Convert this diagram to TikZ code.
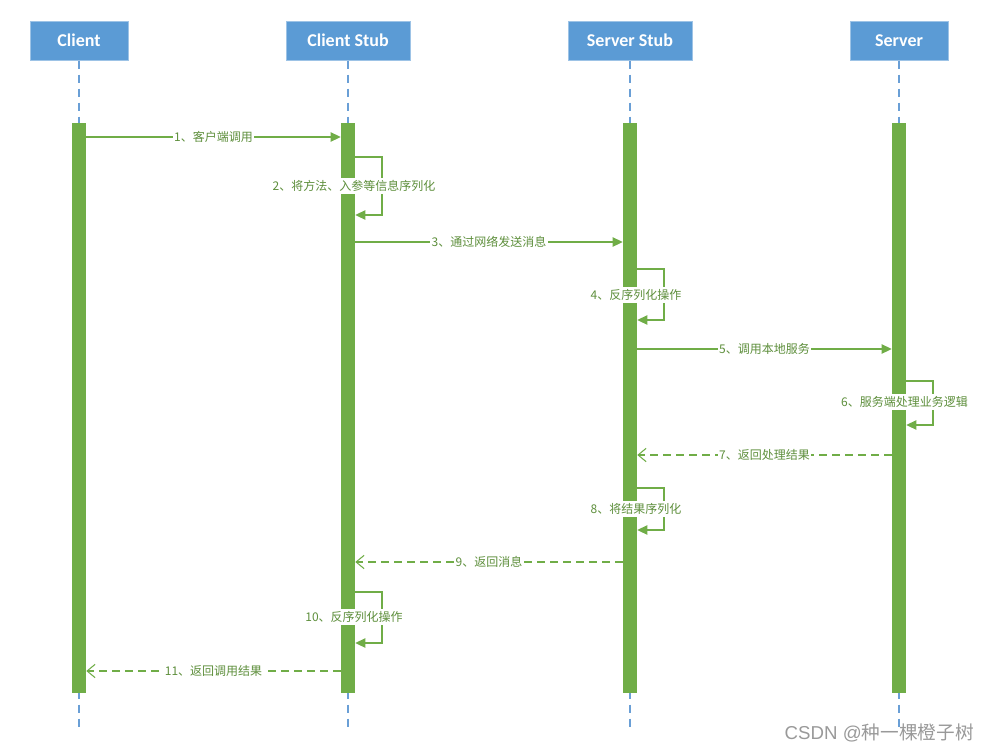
\documentclass[tikz,border=0pt]{standalone}
\usepackage{fontspec}
\setmainfont{Carlito}
\newfontfamily\cjk{Noto Sans CJK SC}
\newfontfamily\wmfont{Liberation Sans}
\usetikzlibrary{arrows.meta}
\definecolor{headblue}{HTML}{5B9BD5}
\definecolor{headline}{HTML}{9DC3E6}
\definecolor{lifeblue}{HTML}{6A9FD6}
\definecolor{barg}{HTML}{70AD47}
\definecolor{msgg}{HTML}{70AD47}
\definecolor{lblg}{HTML}{5E8F3C}
\definecolor{wmgray}{HTML}{999999}
\tikzset{
  head/.style={draw=headline, line width=0.75pt, fill=headblue, text=white,
    font=\bfseries\fontsize{13.5}{15}\selectfont, minimum height=29.25pt, inner sep=0pt},
  lifeline/.style={draw=lifeblue, line width=0.8pt, dash pattern=on 6pt off 4.5pt},
  bar/.style={fill=barg, draw=none, minimum width=10.5pt, minimum height=427.5pt, inner sep=0pt},
  msg/.style={draw=msgg, line width=0.8pt, -{Triangle[length=7.5pt,width=7pt]}},
  ret/.style={draw=msgg, line width=0.8pt, dash pattern=on 6pt off 3.75pt,
    -{Straight Barb[length=6pt,width=10pt,line width=0.8pt]}},
  lbl/.style={fill=white, text=lblg, font=\cjk\fontsize{9}{11}\selectfont,
    inner xsep=1pt, inner ysep=2pt}
}
\begin{document}
\begin{tikzpicture}[x=0.75pt,y=-0.75pt]
\useasboundingbox (0,0) rectangle (990,751);
% headers
\node[head, minimum width=73.5pt] (hc)  at (79,40.5)  {Client};
\node[head, minimum width=93pt]   (hcs) at (348,40.5) {Client Stub};
\node[head, minimum width=93pt]   (hss) at (630,40.5) {Server Stub};
\node[head, minimum width=73.5pt] (hs)  at (899,40.5) {Server};
% lifeline ends
\coordinate (ec)  at (79,727);
\coordinate (ecs) at (348,727);
\coordinate (ess) at (630,727);
\coordinate (es)  at (899,727);
\draw[lifeline] (hc.south)  -- (ec);
\draw[lifeline] (hcs.south) -- (ecs);
\draw[lifeline] (hss.south) -- (ess);
\draw[lifeline] (hs.south)  -- (es);
% activation bars
\node[bar] (bc)  at (79,408)  {};
\node[bar] (bcs) at (348,408) {};
\node[bar] (bss) at (630,408) {};
\node[bar] (bs)  at (899,408) {};
% loop corners
\coordinate (c2a) at (382,157); \coordinate (c2b) at (382,215);
\coordinate (c4a) at (664,269); \coordinate (c4b) at (664,320);
\coordinate (c6a) at (933,381); \coordinate (c6b) at (933,425);
\coordinate (c8a) at (664,488); \coordinate (c8b) at (664,530);
\coordinate (c10a) at (382,592); \coordinate (c10b) at (382,643);
% messages
\draw[msg] (bc.east |- 0,137) -- (bcs.west |- 0,137) node[lbl, midway] (l1) {1、客户端调用};
\draw[msg] (bcs.east |- c2a) -- (c2a) -- (c2b) -- (bcs.east |- c2b);
\node[lbl] (l2) at (354,186) {2、将方法、入参等信息序列化};
\draw[msg] (bcs.east |- 0,242) -- (bss.west |- 0,242) node[lbl, midway] (l3) {3、通过网络发送消息};
\draw[msg] (bss.east |- c4a) -- (c4a) -- (c4b) -- (bss.east |- c4b);
\node[lbl] (l4) at (636,295) {4、反序列化操作};
\draw[msg] (bss.east |- 0,349) -- (bs.west |- 0,349) node[lbl, midway] (l5) {5、调用本地服务};
\draw[msg] (bs.east |- c6a) -- (c6a) -- (c6b) -- (bs.east |- c6b);
\node[lbl] (l6) at (904.5,402) {6、服务端处理业务逻辑};
\draw[ret] (bs.west |- 0,455) -- (bss.east |- 0,455) node[lbl, midway] (l7) {7、返回处理结果};
\draw[msg] (bss.east |- c8a) -- (c8a) -- (c8b) -- (bss.east |- c8b);
\node[lbl] (l8) at (636,509) {8、将结果序列化};
\draw[ret] (bss.west |- 0,562) -- (bcs.east |- 0,562) node[lbl, midway] (l9) {9、返回消息};
\draw[msg] (bcs.east |- c10a) -- (c10a) -- (c10b) -- (bcs.east |- c10b);
\node[lbl] (l10) at (354,617) {10、反序列化操作};
\draw[ret] (bcs.west |- 0,671) -- (bc.east |- 0,671) node[lbl, midway] (l11) {11、返回调用结果};
% watermark
\node[anchor=east, text=wmgray, inner sep=0pt, font=\fontsize{14}{16}\selectfont] (wm) at (974,733) {\wmfont CSDN @\cjk 种一棵橙子树};
\end{tikzpicture}
\end{document}
